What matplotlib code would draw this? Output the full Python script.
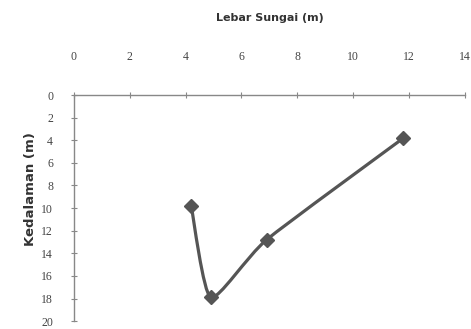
import numpy as np
import matplotlib
matplotlib.use("Agg")
import matplotlib.pyplot as plt
from matplotlib.path import Path
from matplotlib.patches import PathPatch

# Data
lebar = [4.2, 4.9, 6.9, 11.8]        # river width (m)
kedalaman = [9.8, 17.9, 12.8, 3.8]   # depth (m)
x_ticks = [0, 2, 4, 6, 8, 10, 12, 14]
y_ticks = [0, 2, 4, 6, 8, 10, 12, 14, 16, 18, 20]

fig = plt.figure(figsize=(4.71, 3.29), dpi=100)
ax = fig.add_axes([0.157, 0.024, 0.83, 0.687])

col = "#555555"

# Smoothed line (Excel-style Bezier smoothing through the data points)
pts = np.column_stack([lebar, kedalaman])
t = 0.1
verts = [tuple(pts[0])]
codes = [Path.MOVETO]
n = len(pts)
for i in range(n - 1):
    p0 = pts[i - 1] if i > 0 else pts[i]
    p1 = pts[i]
    p2 = pts[i + 1]
    p3 = pts[i + 2] if i + 2 < n else pts[i + 1]
    c1 = p1 + (p2 - p0) * t
    c2 = p2 - (p3 - p1) * t
    verts += [tuple(c1), tuple(c2), tuple(p2)]
    codes += [Path.CURVE4] * 3
ax.add_patch(PathPatch(Path(verts, codes), facecolor="none", edgecolor=col, lw=2.3, zorder=2))
ax.plot(lebar, kedalaman, linestyle="none", marker="D", markersize=7, color=col, zorder=3)

ax.set_xlim(0, 14)
ax.set_ylim(20, 0)
ax.set_xticks(x_ticks)
ax.set_yticks(y_ticks)
ax.xaxis.tick_top()
ax.xaxis.set_label_position("top")

for s in ["right", "bottom"]:
    ax.spines[s].set_visible(False)
for s in ["left", "top"]:
    ax.spines[s].set_color("#888888")
    ax.spines[s].set_linewidth(1.0)

ax.tick_params(axis="x", direction="inout", length=4, color="#888888", pad=21,
               labelsize=8.5, labelcolor="#444444")
ax.tick_params(axis="y", direction="inout", length=4, color="#888888", pad=13,
               labelsize=8.5, labelcolor="#444444")
for lab in ax.get_xticklabels() + ax.get_yticklabels():
    lab.set_family("Liberation Serif")

ax.set_xlabel("Lebar Sungai (m)", fontsize=8, fontweight="bold", color="#333333",
              family="DejaVu Sans", labelpad=22)
ax.set_ylabel("Kedalaman (m)", fontsize=9.5, fontweight="bold", color="#333333",
              family="DejaVu Sans")
ax.yaxis.set_label_coords(-0.095, 0.584)

fig.savefig("out.png", dpi=100)
